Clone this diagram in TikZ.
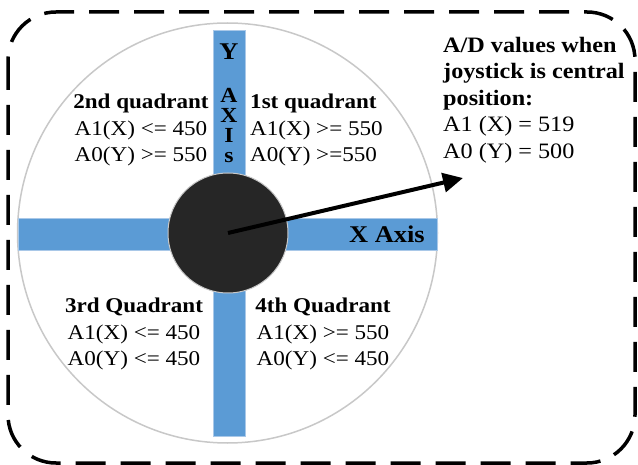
\documentclass[tikz,border=0pt]{standalone}
\usepackage{fontspec}
\setmainfont[FakeStretch=1.1]{Liberation Serif}
\usetikzlibrary{arrows.meta}
\definecolor{barblue}{HTML}{5B9BD5}
\definecolor{baredge}{HTML}{A9C8E8}
\definecolor{knobfill}{HTML}{262626}
\definecolor{ringgray}{HTML}{C8C8C8}
\begin{document}
\begin{tikzpicture}[x=1pt,y=-1pt,
  frame/.style={line width=3.5pt, dash pattern=on 30pt off 15pt, rounded corners=48pt},
  dial/.style={circle, draw=ringgray, line width=1.5pt, fill=white, inner sep=0pt},
  bar/.style={rectangle, fill=barblue, draw=baredge, line width=0.8pt, inner sep=0pt},
  knobstyle/.style={circle, fill=knobfill, draw=ringgray, line width=1pt, inner sep=0pt, minimum size=120pt},
  qtext/.style={inner sep=0pt, font=\fontsize{21}{26.5}\selectfont, align=center},
  itext/.style={inner sep=0pt, font=\fontsize{22}{26.5}\selectfont, align=left, anchor=west},
  axtext/.style={inner sep=0pt, font=\fontsize{24}{20}\selectfont\bfseries},
  axletter/.style={inner sep=0pt, font=\fontsize{21.5}{20}\selectfont\bfseries, text height=14pt, text depth=0pt},
  pointer/.style={line width=4pt, -{Triangle[length=20pt,width=19pt]}}
]
\useasboundingbox (0,0) rectangle (638,465);
\draw[frame] (8,12) rectangle (635,463);
\node[dial, minimum size=420pt] (dialc) at (227.5,233) {};
\node[bar, minimum width=32pt, minimum height=406pt] (ybar) at (229,233) {};
\node[bar, minimum width=419pt, minimum height=32pt] (xbar) at (227.5,234) {};
\node[knobstyle] (knob) at (228,233) {};
\coordinate (tip) at (463,178);
\draw[pointer] (knob.center) -- (tip);

\node[axtext] (ylab) at (229,52) {Y};
\node[axletter] (la) at (229,96) {A};
\node[axletter] (lx) at (229,116) {X};
\node[axletter] (li) at (229,136) {I};
\node[axletter, text height=10pt] (ls) at (229,158) {s};
\node[axtext] (xlab) at (387,234) {X Axis};

\node[qtext] (q2) at (141,130) {\textbf{2nd quadrant}\\A1(X) <= 450\\A0(Y) >= 550};
\node[qtext, align=left, anchor=west] (q1) at (250,130) {\textbf{1st quadrant}\\A1(X) >= 550\\A0(Y) >=550};
\node[qtext] (q3) at (134,334) {\textbf{3rd Quadrant}\\A1(X) <= 450\\A0(Y) <= 450};
\node[qtext] (q4) at (323,334) {\textbf{4th Quadrant}\\A1(X) >= 550\\A0(Y) <= 450};
\node[itext] (info) at (443,100) {\textbf{A/D values when}\\\textbf{joystick is central}\\\textbf{position:}\\A1 (X) = 519\\A0 (Y) = 500};
\end{tikzpicture}
\end{document}
